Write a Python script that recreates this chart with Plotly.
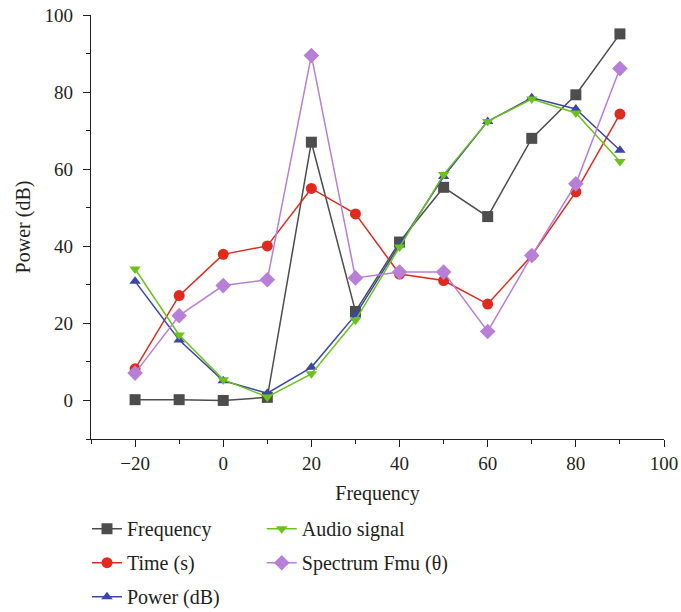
import plotly.graph_objects as go

x_vals = [-20, -10, 0, 10, 20, 30, 40, 50, 60, 70, 80, 90]

frequency = [0.2, 0.2, 0.0, 0.8, 67.0, 23.1, 41.1, 55.3, 47.7, 68.0, 79.3, 95.1]
time_s = [8.2, 27.2, 37.9, 40.1, 55.0, 48.4, 32.8, 31.1, 25.0, 37.6, 54.1, 74.3]
power_db = [30.9, 15.7, 5.1, 1.9, 8.6, 22.2, 40.4, 58.1, 72.4, 78.5, 75.6, 64.9]
audio = [34.1, 17.0, 5.4, 0.9, 6.9, 20.8, 39.8, 58.6, 72.4, 78.2, 74.6, 62.0]
spectrum = [7.1, 22.0, 29.8, 31.3, 89.5, 31.8, 33.3, 33.3, 17.9, 37.6, 56.2, 86.1]

names = ["Frequency", "Time (s)", "Power (dB)", "Audio signal", "Spectrum Fmu (θ)"]
series = [frequency, time_s, power_db, audio, spectrum]
colors = ["#4d4d4d", "#e02a1e", "#3c46a6", "#6ac31a", "#b77fd8"]
symbols = ["square", "circle", "triangle-up", "triangle-down", "diamond"]
sizes = [11, 11, 10, 10, 12]
legends = ["legend", "legend", "legend", "legend2", "legend2"]

FONT = "Liberation Serif, Times New Roman, serif"
TXT = "#231f20"

fig = go.Figure()
for i, (nm, ys) in enumerate(zip(names, series)):
    fig.add_trace(go.Scatter(
        x=x_vals, y=ys, name=nm, mode="lines+markers",
        line=dict(color=colors[i], width=1.5),
        marker=dict(symbol=symbols[i], size=sizes[i], color=colors[i]),
        legend=legends[i], legendgroup=nm,
    ))

axis_common = dict(
    showline=True, linecolor="#231f20", linewidth=1.3,
    ticks="outside", ticklen=7, tickwidth=1.2, tickcolor="#231f20",
    showgrid=False, zeroline=False, mirror=False, automargin=False,
    tickfont=dict(family=FONT, size=19, color=TXT),
    title_font=dict(family=FONT, size=20, color=TXT),
)

fig.update_xaxes(
    range=[-30, 100], tick0=0, dtick=20,
    minor=dict(ticks="outside", ticklen=4, tickwidth=1.2, tickcolor="#231f20", dtick=10, tick0=0),
    title_text="Frequency", title_standoff=13, ticklabelstandoff=0,
    **axis_common,
)
fig.update_yaxes(
    range=[-10, 100], tick0=0, dtick=20,
    minor=dict(ticks="outside", ticklen=4, tickwidth=1.2, tickcolor="#231f20", dtick=10, tick0=0),
    title_text="Power (dB)", title_standoff=8, ticklabelstandoff=6,
    **axis_common,
)

leg_common = dict(
    orientation="v", xanchor="left", yanchor="top", yref="container",
    font=dict(family=FONT, size=20, color=TXT),
    bgcolor="rgba(0,0,0,0)", tracegroupgap=5, itemwidth=30,
)

fig.update_layout(
    width=681, height=612,
    margin=dict(l=91, r=17, t=15, b=173, autoexpand=False),
    paper_bgcolor="white", plot_bgcolor="white",
    showlegend=True,
    legend=dict(x=-0.007, y=0.168, **leg_common),
    legend2=dict(x=0.298, y=0.168, **leg_common),
)

fig.write_html("out.html")
